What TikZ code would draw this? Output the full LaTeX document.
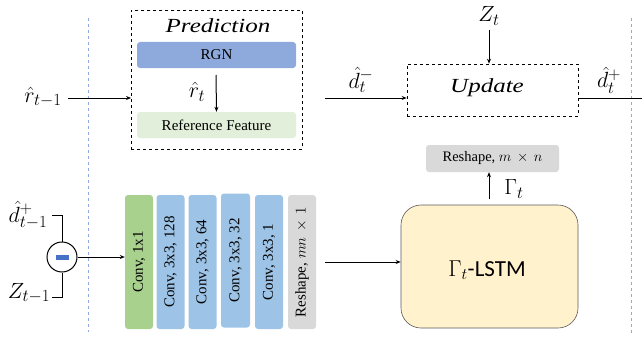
\RequirePackage{fix-cm}
\documentclass[tikz,border=0pt]{standalone}
\usepackage{fontspec}
\usepackage{graphicx}
\setmainfont{Liberation Serif}
\newfontfamily\calib{Carlito}
\DeclareMathSizes{22}{22}{17}{13}
\usetikzlibrary{arrows.meta,positioning}
\definecolor{rgnblue}{HTML}{8EA9DB}
\definecolor{refgreen}{HTML}{E2EFDA}
\definecolor{convgreen}{HTML}{A9D18E}
\definecolor{convblue}{HTML}{9DC3E6}
\definecolor{graybox}{HTML}{D9D9D9}
\definecolor{lstmfill}{HTML}{FFF2CC}
\definecolor{sepblue}{HTML}{8FAADC}
\definecolor{minusblue}{HTML}{4472C4}
\begin{document}
\begin{tikzpicture}[x=1pt,y=-1pt,
  arr/.style={-{Stealth[length=5pt,width=4pt]},line width=1pt},
  ln/.style={line width=1pt},
  dbox/.style={draw,dashed,line width=0.6pt},
  fbox/.style={rounded corners=3pt,inner sep=0pt},
  vbox/.style={rounded corners=3pt,inner sep=0pt,minimum width=28pt,minimum height=134pt},
  sep/.style={draw=sepblue,dashed,line width=0.8pt},
  lab/.style={font=\fontsize{22}{22}\selectfont},
  ttl/.style={font=\fontsize{20}{20}\selectfont\itshape},
]
\useasboundingbox (0,0) rectangle (642,337);
% separators
\draw[sep] (88,18) -- (88,332);
\draw[sep] (631,18) -- (631,335);
% prediction
\node[dbox,minimum width=171pt,minimum height=139pt,anchor=north west] (pred) at (131,10) {};
\node[ttl] (predt) at (218,26) {\scalebox{1.25}[1]{Prediction}};
\node[fbox,fill=rgnblue,minimum width=159pt,minimum height=26pt,font=\fontsize{15}{15}\selectfont] (rgn) at (216.5,55) {RGN};
\node[fbox,fill=refgreen,minimum width=159pt,minimum height=26pt,font=\fontsize{15}{15}\selectfont] (ref) at (216.5,125) {Reference Feature};
\coordinate (rt1) at (216,75);
\draw[arr] (rt1) -- (ref.north);
\node[lab] (rtl) at (197,92) {$\hat r_t$};
% input r
\node[lab] (rin) at (43,97) {$\hat r_{t-1}$};
\coordinate (rs) at (68,98);
\draw[arr] (rs) -- (pred.west |- rs);
% update
\node[dbox,minimum width=171pt,minimum height=52pt] (upd) at (492.5,90) {};
\node[ttl] (updt) at (487,88) {\scalebox{1.25}[1]{Update}};
\coordinate (dm1) at (325,98);
\draw[arr] (dm1) -- (upd.west |- dm1);
\node[lab] (dml) at (361,80) {$\hat d_t^-$};
\node[lab] (zt) at (489,16) {$Z_t$};
\coordinate (zts) at (489,30);
\draw[arr] (zts) -- (upd.north -| zts);
\coordinate (dpo) at (642,98);
\draw[ln] (upd.east |- dpo) -- (dpo);
\node[lab] (dpl) at (609,80) {$\hat d_t^+$};
% reshape m x n
\node[fbox,fill=graybox,minimum width=133pt,minimum height=27pt,font=\fontsize{14.5}{14.5}\selectfont] (rs2) at (492.5,158.5) {Reshape, $m\,\times\,n$};
\node[draw=gray!70!black,fill=lstmfill,rounded corners=20pt,minimum width=177pt,minimum height=123pt,line width=0.6pt] (lstm) at (489.5,266.5) {};
\node[font=\fontsize{23}{23}\calib] (lstmt) at (487,270) {$\Gamma_t$-LSTM};
\coordinate (gs) at (489,199);
\draw[arr] (gs) -- (rs2.south -| gs);
\node[lab] (gl) at (514,189) {$\Gamma_t$};
% conv column
\tikzset{vt/.style={rotate=90,font=\fontsize{15}{15}\selectfont}}
\node[vbox,fill=convgreen] (c1) at (139,262) {};
\node[vt] at (c1) {Conv, 1x1};
\node[vbox,fill=convblue] (c2) at (170.5,262) {};
\node[vt] at (c2) {Conv, 3x3, 128};
\node[vbox,fill=convblue] (c3) at (202.5,262) {};
\node[vt] at (c3) {Conv, 3x3, 64};
\node[vbox,fill=convblue,minimum width=29pt] (c4) at (235.5,260.5) {};
\node[vt] at (c4) {Conv, 3x3, 32};
\node[vbox,fill=convblue] (c5) at (269,262) {};
\node[vt] at (c5) {Conv, 3x3, 1};
\node[vbox,fill=graybox] (c6) at (302,262) {};
\node[vt] at (c6) {Reshape, $mn\,\times\,1$};
\coordinate (lin) at (325,262);
\draw[arr] (lin) -- (lstm.west |- lin);
% minus
\node[draw,circle,minimum size=30pt,line width=1pt,inner sep=0pt] (mn) at (62,257) {};
\fill[minusblue] (55.5,254.5) rectangle (68.5,259.5);
\draw[arr] (mn.east) -- (c1.west |- mn);
\node[lab] (dprev) at (28,215) {$\hat d_{t-1}^+$};
\node[lab] (zprev) at (29,293) {$Z_{t-1}$};
\draw[ln] (52,215) -- (62,215) -- (mn.north);
\draw[ln] (mn.south) -- (62,297) -- (52,297);
\end{tikzpicture}
\end{document}
